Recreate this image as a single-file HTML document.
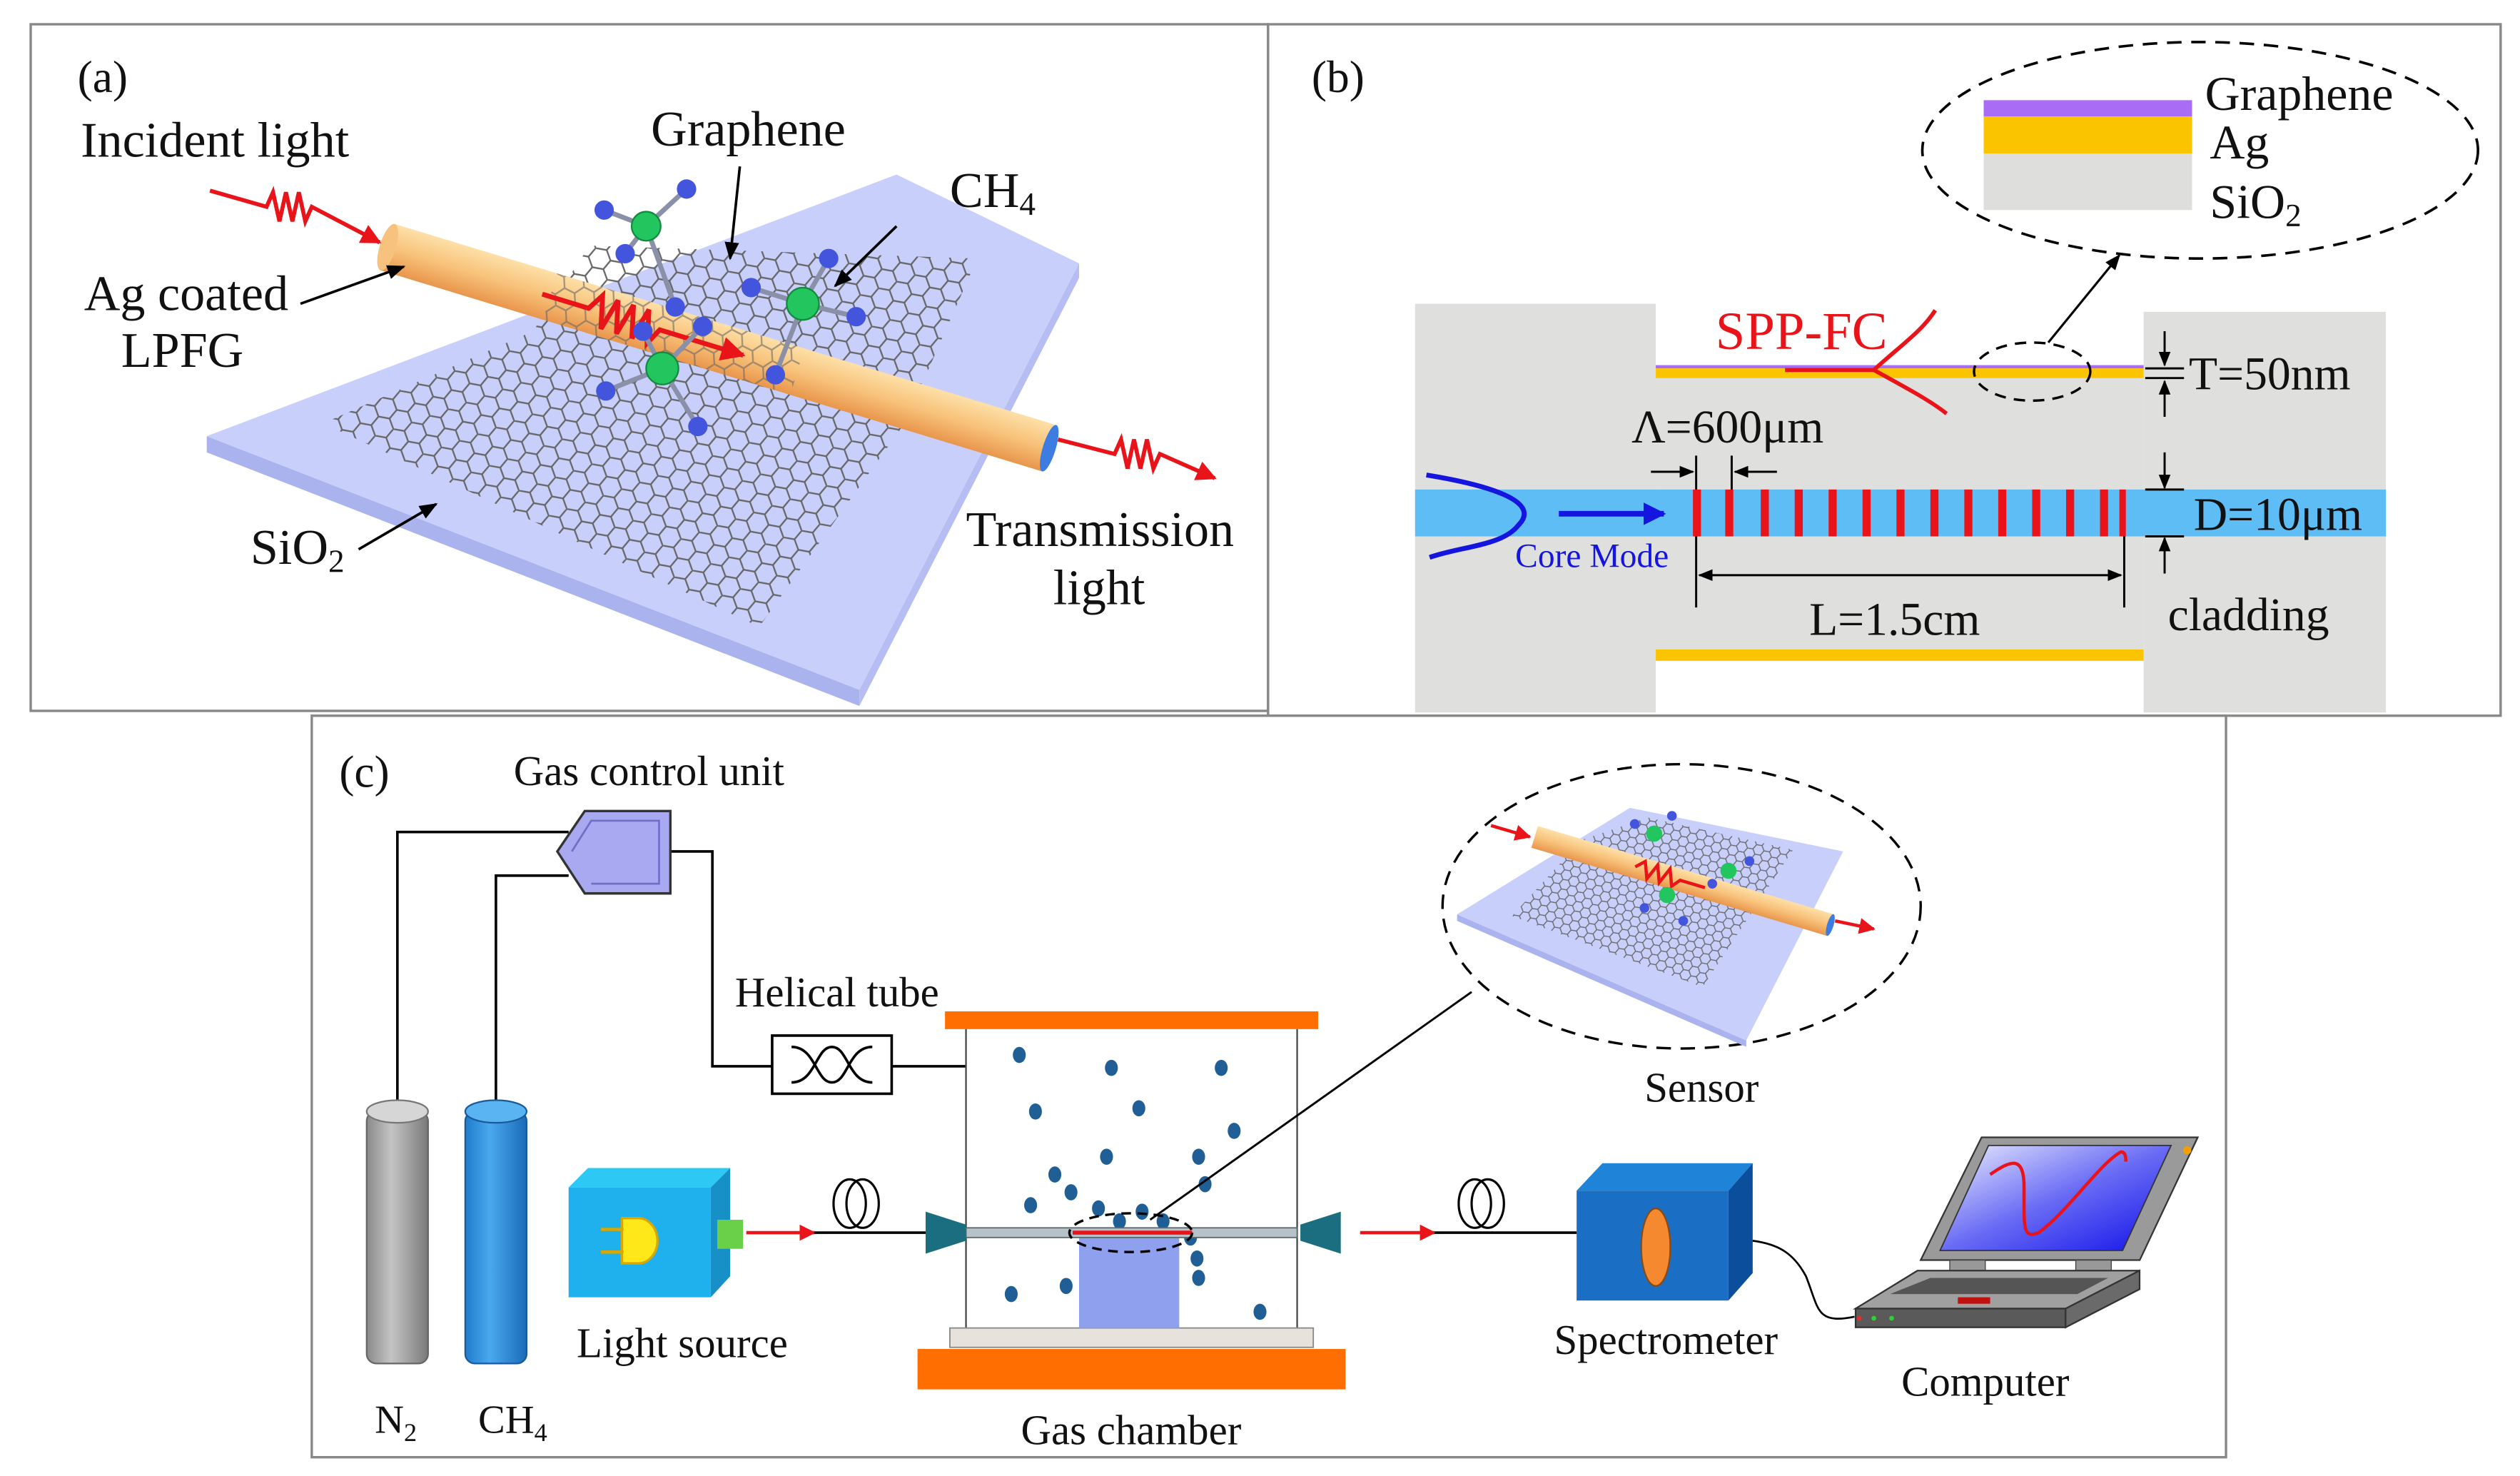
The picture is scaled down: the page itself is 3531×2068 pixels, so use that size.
<!DOCTYPE html>
<html><head><meta charset="utf-8"><style>
html,body{margin:0;padding:0;background:#fff;}
svg{display:block;}
text{font-family:"Liberation Serif",serif;fill:#111;}
</style></head><body>
<svg width="3531" height="2068" viewBox="0 0 1560 913.6" xmlns="http://www.w3.org/2000/svg">
<defs>
<pattern id="hex" width="12" height="20.8" patternUnits="userSpaceOnUse" patternTransform="rotate(-20)">
<path d="M0,3.5 L6,0 L12,3.5 L12,10.4 L6,13.9 L0,10.4 Z M6,13.9 L6,20.8" fill="none" stroke="#666" stroke-width="1"/>
</pattern>
<pattern id="hexs" width="6" height="10.4" patternUnits="userSpaceOnUse" patternTransform="rotate(-20)">
<path d="M0,1.7 L3,0 L6,1.7 L6,5.2 L3,6.9 L0,5.2 Z M3,6.9 L3,10.4" fill="none" stroke="#666" stroke-width="0.6"/>
</pattern>
<linearGradient id="fib" x1="0" y1="0" x2="0" y2="1"><stop offset="0" stop-color="#fde0a8"/><stop offset="0.5" stop-color="#f8c27a"/><stop offset="1" stop-color="#e9964c"/></linearGradient>
<linearGradient id="scr" x1="0" y1="0" x2="1" y2="1"><stop offset="0" stop-color="#eef0ff"/><stop offset="0.5" stop-color="#6a6cf5"/><stop offset="1" stop-color="#1010e8"/></linearGradient>
<linearGradient id="cylg" x1="0" y1="0" x2="1" y2="0"><stop offset="0" stop-color="#8a8a8a"/><stop offset="0.4" stop-color="#c4c4c4"/><stop offset="1" stop-color="#7a7a7a"/></linearGradient>
<linearGradient id="cylb" x1="0" y1="0" x2="1" y2="0"><stop offset="0" stop-color="#1e7ccc"/><stop offset="0.4" stop-color="#4aa8ee"/><stop offset="1" stop-color="#1a6bb8"/></linearGradient>
<marker id="ah" viewBox="0 0 10 10" refX="9" refY="5" markerWidth="7" markerHeight="7" orient="auto-start-reverse"><path d="M0,1 L10,5 L0,9 Z" fill="#000"/></marker>
<marker id="ahr" viewBox="0 0 10 10" refX="9" refY="5" markerWidth="5" markerHeight="5" orient="auto"><path d="M0,0 L10,5 L0,10 Z" fill="#e8141a"/></marker>
<marker id="ahb" viewBox="0 0 10 10" refX="9" refY="5" markerWidth="4" markerHeight="4" orient="auto"><path d="M0,0 L10,5 L0,10 Z" fill="#1515e0"/></marker>
</defs>

<rect x="19" y="15" width="766" height="425" fill="none" stroke="#888" stroke-width="1.5"/>
<rect x="785" y="15" width="763" height="428" fill="none" stroke="#888" stroke-width="1.5"/>
<rect x="193" y="443" width="1185" height="459" fill="#fff" stroke="#888" stroke-width="1.5"/>

<!-- ===== Panel (a) ===== -->
<text x="48" y="57" font-size="28">(a)</text>
<text x="50" y="97" font-size="31">Incident light</text>
<text x="403" y="90" font-size="31">Graphene</text>
<text x="588" y="128" font-size="31">CH<tspan font-size="20" dy="5">4</tspan></text>
<text x="52" y="192" font-size="31">Ag coated</text>
<text x="75" y="227" font-size="31">LPFG</text>
<text x="155" y="349" font-size="31">SiO<tspan font-size="20" dy="5">2</tspan></text>
<text x="598" y="338" font-size="31">Transmission</text>
<text x="652" y="374" font-size="31">light</text>
<polygon points="128,270 532,427 532,437 128,280" fill="#aab3ee"/>
<polygon points="532,427 668,163 668,172 532,437" fill="#b5bdf2"/>
<polygon points="128,270 555,108 668,163 532,427" fill="#c9cffb"/>
<polygon points="200,262 330,205 365,152 605,160 560,262 470,388" fill="url(#hex)"/>
<g transform="translate(240,153) rotate(16.9)">
<rect x="0" y="-15" width="428" height="30" fill="url(#fib)"/>
<ellipse cx="0" cy="0" rx="5" ry="15" fill="#f6c27e"/>
<ellipse cx="428" cy="0" rx="4" ry="15" fill="#3d7ce0"/>
<rect x="105" y="-15" width="160" height="30" fill="url(#hex)" opacity="0.6"/>
<path d="M100,0 L130,0 l6,-10 l5,20 l5,-20 l5,20 l5,-20 l5,20 l5,-20 l5,20 l5,-10 L230,0" fill="none" stroke="#e8141a" stroke-width="3" marker-end="url(#ahr)"/>
</g>
<path d="M130,118 L165,128 l4,-9 l4,18 l4,-18 l4,18 l4,-18 l4,18 l4,-9 L235,150" fill="none" stroke="#e8141a" stroke-width="2.5" marker-end="url(#ahr)"/>
<path d="M655,272 L690,281 l4,-9 l4,18 l4,-18 l4,18 l4,-18 l4,18 l4,-9 L752,296" fill="none" stroke="#e8141a" stroke-width="2.5" marker-end="url(#ahr)"/>
<g stroke="#8a90a8" stroke-width="3">
<line x1="400" y1="140" x2="374" y2="130"/><line x1="400" y1="140" x2="425" y2="117"/><line x1="400" y1="140" x2="387" y2="157"/><line x1="400" y1="140" x2="418" y2="190"/>
<line x1="497" y1="188" x2="465" y2="178"/><line x1="497" y1="188" x2="513" y2="160"/><line x1="497" y1="188" x2="530" y2="196"/><line x1="497" y1="188" x2="480" y2="232"/>
<line x1="410" y1="228" x2="375" y2="242"/><line x1="410" y1="228" x2="432" y2="264"/><line x1="410" y1="228" x2="398" y2="205"/><line x1="410" y1="228" x2="435" y2="202"/>
</g>
<g fill="#4455dd">
<circle cx="374" cy="130" r="6"/><circle cx="425" cy="117" r="6"/><circle cx="387" cy="157" r="6"/><circle cx="418" cy="190" r="6"/>
<circle cx="465" cy="178" r="6"/><circle cx="513" cy="160" r="6"/><circle cx="530" cy="196" r="6"/><circle cx="480" cy="232" r="6"/>
<circle cx="375" cy="242" r="6"/><circle cx="432" cy="264" r="6"/><circle cx="398" cy="205" r="6"/><circle cx="435" cy="202" r="6"/>
</g>
<g fill="#22c55e" stroke="#138a3e" stroke-width="1"><circle cx="400" cy="140" r="9"/><circle cx="497" cy="188" r="10"/><circle cx="410" cy="228" r="10"/></g>
<g stroke="#000" stroke-width="1.6" fill="none">
<line x1="186" y1="188" x2="250" y2="165" marker-end="url(#ah)"/>
<line x1="222" y1="340" x2="270" y2="312" marker-end="url(#ah)"/>
<line x1="458" y1="103" x2="452" y2="160" marker-end="url(#ah)"/>
<line x1="555" y1="140" x2="517" y2="177" marker-end="url(#ah)"/>
</g>

<!-- ===== Panel (b) ===== -->
<text x="812" y="57" font-size="28">(b)</text>
<ellipse cx="1362" cy="93" rx="172" ry="67" fill="none" stroke="#000" stroke-width="1.6" stroke-dasharray="9,6"/>
<rect x="1228" y="62" width="129" height="10" fill="#a86cf5"/>
<rect x="1228" y="72" width="129" height="23" fill="#fbc400"/>
<rect x="1228" y="95" width="129" height="35" fill="#dededc"/>
<text x="1365" y="68" font-size="30">Graphene</text>
<text x="1368" y="98" font-size="30">Ag</text>
<text x="1368" y="135" font-size="30">SiO<tspan font-size="20" dy="5">2</tspan></text>
<rect x="876" y="188" width="149" height="253" fill="#dfdfdd"/>
<rect x="1327" y="193" width="150" height="248" fill="#dfdfdd"/>
<rect x="1025" y="233" width="302" height="169" fill="#dfdfdd"/>
<rect x="1025" y="226" width="302" height="2" fill="#a86cf5"/>
<rect x="1025" y="228" width="302" height="6" fill="#fbc400"/>
<rect x="1025" y="402" width="302" height="7" fill="#fbc400"/>
<rect x="876" y="303" width="601" height="29" fill="#5fbdf6"/>
<g fill="#e8141a">
<rect x="1048" y="303" width="5" height="29"/><rect x="1068" y="303" width="5" height="29"/><rect x="1090" y="303" width="5" height="29"/><rect x="1111" y="303" width="5" height="29"/><rect x="1132" y="303" width="5" height="29"/><rect x="1153" y="303" width="5" height="29"/><rect x="1174" y="303" width="5" height="29"/><rect x="1195" y="303" width="5" height="29"/><rect x="1216" y="303" width="5" height="29"/><rect x="1237" y="303" width="5" height="29"/><rect x="1258" y="303" width="5" height="29"/><rect x="1279" y="303" width="5" height="29"/><rect x="1300" y="303" width="5" height="29"/><rect x="1312" y="303" width="4" height="29"/>
</g>
<path d="M883,294 C920,300 955,310 940,325 C930,338 905,338 885,345" fill="none" stroke="#1515e0" stroke-width="3"/>
<line x1="965" y1="318" x2="1030" y2="318" stroke="#1515e0" stroke-width="3.5" marker-end="url(#ahb)"/>
<text x="938" y="351" font-size="21" style="fill:#1515e0">Core Mode</text>
<text x="1062" y="216" font-size="33" style="fill:#e8141a">SPP-FC</text>
<path d="M1105,229 L1160,229 M1160,229 C1175,215 1190,205 1198,192 M1160,229 C1180,240 1195,248 1205,256" fill="none" stroke="#e8141a" stroke-width="2.5"/>
<ellipse cx="1258" cy="230" rx="36" ry="18" fill="none" stroke="#000" stroke-width="1.5" stroke-dasharray="7,5"/>
<line x1="1268" y1="212" x2="1312" y2="158" stroke="#000" stroke-width="1.4" marker-end="url(#ah)"/>
<g stroke="#000" stroke-width="1.3" fill="none">
<line x1="1340" y1="205" x2="1340" y2="226" marker-end="url(#ah)"/>
<line x1="1340" y1="258" x2="1340" y2="236" marker-end="url(#ah)"/>
<line x1="1328" y1="228" x2="1352" y2="228"/><line x1="1328" y1="234" x2="1352" y2="234"/>
<line x1="1340" y1="280" x2="1340" y2="302" marker-end="url(#ah)"/>
<line x1="1340" y1="355" x2="1340" y2="333" marker-end="url(#ah)"/>
<line x1="1328" y1="303" x2="1352" y2="303"/><line x1="1328" y1="332" x2="1352" y2="332"/>
<line x1="1022" y1="292" x2="1048" y2="292" marker-end="url(#ah)"/>
<line x1="1100" y1="292" x2="1074" y2="292" marker-end="url(#ah)"/>
<line x1="1050" y1="282" x2="1050" y2="303"/><line x1="1072" y1="282" x2="1072" y2="303"/>
<line x1="1050" y1="332" x2="1050" y2="376"/><line x1="1315" y1="332" x2="1315" y2="376"/>
<line x1="1052" y1="356" x2="1313" y2="356" marker-end="url(#ah)" marker-start="url(#ah)"/>
</g>
<text x="1355" y="241" font-size="29">T=50nm</text>
<text x="1010" y="274" font-size="29">Λ=600μm</text>
<text x="1358" y="328" font-size="29">D=10μm</text>
<text x="1120" y="393" font-size="29">L=1.5cm</text>
<text x="1342" y="390" font-size="29">cladding</text>

<!-- ===== Panel (c) ===== -->
<text x="210" y="487" font-size="28">(c)</text>
<text x="318" y="486" font-size="26">Gas control unit</text>
<g stroke="#000" stroke-width="1.6" fill="none">
<polyline points="246,685 246,515 352,515"/>
<polyline points="307,685 307,542 352,542"/>
<polyline points="413,527 441,527 441,660 478,660"/>
<line x1="552" y1="660" x2="598" y2="660"/>
</g>
<polygon points="345,527 362,502 415,502 415,553 362,553" fill="#a9a9f2" stroke="#333" stroke-width="1.5"/>
<polyline points="354,527 366,508 408,508 408,547 366,547" fill="none" stroke="#6f6fc8" stroke-width="1.2"/>
<rect x="478" y="641" width="74" height="36" fill="#fff" stroke="#000" stroke-width="1.6"/>
<path d="M490,648 C505,648 505,670 515,670 M540,648 C525,648 525,670 515,670 M490,670 C505,670 505,648 515,648 M540,670 C525,670 525,648 515,648" fill="none" stroke="#000" stroke-width="1.6"/>
<text x="455" y="623" font-size="26">Helical tube</text>
<rect x="227" y="688" width="38" height="156" rx="6" fill="url(#cylg)" stroke="#666" stroke-width="1"/>
<ellipse cx="246" cy="688" rx="19" ry="7" fill="#d6d6d6" stroke="#777"/>
<rect x="288" y="688" width="38" height="156" rx="6" fill="url(#cylb)" stroke="#1a5a9a" stroke-width="1"/>
<ellipse cx="307" cy="688" rx="19" ry="7" fill="#5ab4f2" stroke="#1a5a9a"/>
<text x="232" y="887" font-size="25">N<tspan font-size="16" dy="5">2</tspan></text>
<text x="296" y="887" font-size="25">CH<tspan font-size="16" dy="5">4</tspan></text>
<rect x="585" y="626" width="231" height="11" fill="#ff6e00"/>
<line x1="598" y1="637" x2="598" y2="822" stroke="#444" stroke-width="1"/>
<line x1="803" y1="637" x2="803" y2="822" stroke="#444" stroke-width="1"/>
<rect x="588" y="822" width="225" height="12" fill="#e7e2dc" stroke="#888" stroke-width="0.8"/>
<rect x="568" y="835" width="265" height="25" fill="#ff6e00"/>
<rect x="668" y="765" width="62" height="57" fill="#8ea0ee"/>
<g fill="#1f5f95">
<ellipse cx="631" cy="653" rx="4" ry="5"/><ellipse cx="688" cy="661" rx="4" ry="5"/><ellipse cx="756" cy="661" rx="4" ry="5"/><ellipse cx="641" cy="688" rx="4" ry="5"/><ellipse cx="705" cy="686" rx="4" ry="5"/><ellipse cx="764" cy="700" rx="4" ry="5"/><ellipse cx="653" cy="727" rx="4" ry="5"/><ellipse cx="685" cy="716" rx="4" ry="5"/><ellipse cx="742" cy="716" rx="4" ry="5"/><ellipse cx="663" cy="738" rx="4" ry="5"/><ellipse cx="746" cy="733" rx="4" ry="5"/><ellipse cx="638" cy="746" rx="4" ry="5"/><ellipse cx="707" cy="750" rx="4" ry="5"/><ellipse cx="680" cy="748" rx="4" ry="5"/><ellipse cx="693" cy="756" rx="4" ry="5"/><ellipse cx="720" cy="756" rx="4" ry="5"/><ellipse cx="737" cy="766" rx="4" ry="5"/><ellipse cx="741" cy="779" rx="4" ry="5"/><ellipse cx="660" cy="796" rx="4" ry="5"/><ellipse cx="742" cy="791" rx="4" ry="5"/><ellipse cx="626" cy="801" rx="4" ry="5"/><ellipse cx="780" cy="812" rx="4" ry="5"/>
</g>
<rect x="598" y="760" width="205" height="6" fill="#b7c2c8" stroke="#5a6a70" stroke-width="0.8"/>
<line x1="664" y1="763" x2="738" y2="763" stroke="#e8141a" stroke-width="2.5"/>
<ellipse cx="700" cy="763" rx="38" ry="12" fill="none" stroke="#000" stroke-width="1.5" stroke-dasharray="6,4"/>
<polygon points="573,750 598,758 598,768 573,776" fill="#1b6d80"/>
<polygon points="830,750 805,758 805,768 830,776" fill="#1b6d80"/>
<line x1="712" y1="755" x2="911" y2="614" stroke="#000" stroke-width="1.3"/>
<polygon points="352,735 364,723 452,723 440,735" fill="#2ec8f5"/>
<polygon points="440,735 452,723 452,790 440,803" fill="#1790c8"/>
<rect x="352" y="735" width="88" height="68" fill="#1fb0ee"/>
<rect x="444" y="755" width="16" height="18" fill="#6ad04a"/>
<path d="M385,754 L395,754 A12,14 0 0 1 395,782 L385,782 Z" fill="#ffe81a" stroke="#d9a800" stroke-width="1.5"/>
<path d="M372,761 L386,761 M372,775 L386,775" stroke="#d9a800" stroke-width="2"/>
<line x1="462" y1="763" x2="504" y2="763" stroke="#e8141a" stroke-width="2" marker-end="url(#ahr)"/>
<line x1="504" y1="763" x2="573" y2="763" stroke="#000" stroke-width="1.6"/>
<ellipse cx="526" cy="745" rx="10" ry="15" fill="none" stroke="#000" stroke-width="1.4"/>
<ellipse cx="534" cy="745" rx="10" ry="15" fill="none" stroke="#000" stroke-width="1.4"/>
<text x="357" y="840" font-size="26">Light source</text>
<line x1="842" y1="763" x2="888" y2="763" stroke="#e8141a" stroke-width="2" marker-end="url(#ahr)"/>
<line x1="888" y1="763" x2="976" y2="763" stroke="#000" stroke-width="1.6"/>
<ellipse cx="913" cy="745" rx="10" ry="15" fill="none" stroke="#000" stroke-width="1.4"/>
<ellipse cx="921" cy="745" rx="10" ry="15" fill="none" stroke="#000" stroke-width="1.4"/>
<polygon points="976,737 992,720 1085,720 1070,737" fill="#1f83d8"/>
<polygon points="1070,737 1085,720 1085,788 1070,805" fill="#0b4f9c"/>
<rect x="976" y="737" width="94" height="68" fill="#1a6fc4"/>
<ellipse cx="1025" cy="772" rx="9" ry="24" fill="#f5892f" stroke="#8a4a10" stroke-width="1"/>
<path d="M1085,768 C1100,770 1110,775 1118,790 C1126,810 1124,820 1148,815" fill="none" stroke="#000" stroke-width="1.2"/>
<text x="962" y="838" font-size="26">Spectrometer</text>
<polygon points="1226.7,704 1360.5,704 1324.6,780 1189,780" fill="#9a9a9a" stroke="#333" stroke-width="1"/>
<polygon points="1231,709 1344,709 1314,774 1201,774" fill="url(#scr)" stroke="#333" stroke-width="0.8"/>
<circle cx="1354" cy="712" r="2.5" fill="#f5a000"/>
<path d="M1232,727 C1245,718 1253,715 1253,735 C1253,760 1252,767 1262,763 C1280,750 1300,720 1313,713 C1316,713 1316,717 1316,719" fill="none" stroke="#e8141a" stroke-width="2"/>
<rect x="1207" y="780" width="22" height="7" fill="#999" stroke="#444" stroke-width="0.6"/>
<rect x="1285" y="780" width="22" height="7" fill="#999" stroke="#444" stroke-width="0.6"/>
<polygon points="1187,786.5 1324.5,786.5 1278.7,810 1148.7,810" fill="#a0a0a0" stroke="#333" stroke-width="1"/>
<polygon points="1195,791 1305,791 1286,801 1170,801" fill="#555"/>
<rect x="1212" y="803" width="20" height="4" fill="#c01010"/>
<rect x="1148.7" y="810" width="130" height="11.6" fill="#5a5a5a" stroke="#333" stroke-width="1"/>
<polygon points="1278.7,810 1324.5,786.5 1324.5,798 1278.7,821.6" fill="#6a6a6a" stroke="#333" stroke-width="1"/>
<circle cx="1160" cy="816" r="1.5" fill="#2fd02f"/><circle cx="1171" cy="816" r="1.5" fill="#2fd02f"/><circle cx="1151" cy="816" r="1.5" fill="#e03030"/>
<text x="1177" y="864" font-size="26">Computer</text>
<!-- sensor -->
<ellipse cx="1041" cy="561" rx="148" ry="88" fill="none" stroke="#000" stroke-width="1.5" stroke-dasharray="9,6"/>
<polygon points="902,566 1081,644 1081,648 902,570" fill="#aab3ee"/>
<polygon points="902,566 1009,500 1141,527 1081,644" fill="#c9cffb"/>
<polygon points="936,567 979,520 1020,506 1110,526 1054,611" fill="url(#hexs)"/>
<g transform="translate(950,518) rotate(16.6)">
<rect x="0" y="-7" width="191" height="14" fill="url(#fib)"/>
<ellipse cx="191" cy="0" rx="2" ry="7" fill="#3d7ce0"/>
<path d="M65,0 l5,-5 l4,10 l4,-10 l4,10 l4,-10 l4,10 l4,-5 L110,0" fill="none" stroke="#e8141a" stroke-width="2"/>
</g>
<g fill="#22c55e"><circle cx="1024" cy="516" r="5"/><circle cx="1070" cy="539" r="5"/><circle cx="1032" cy="554" r="5"/></g>
<g fill="#4455dd"><circle cx="1012" cy="510" r="3"/><circle cx="1035" cy="505" r="3"/><circle cx="1083" cy="533" r="3"/><circle cx="1060" cy="547" r="3"/><circle cx="1018" cy="562" r="3"/><circle cx="1042" cy="570" r="3"/></g>
<line x1="923" y1="511" x2="947" y2="518" stroke="#e8141a" stroke-width="2" marker-end="url(#ahr)"/>
<line x1="1136" y1="570" x2="1160" y2="575" stroke="#e8141a" stroke-width="2" marker-end="url(#ahr)"/>
<text x="1018" y="682" font-size="26">Sensor</text>
<text x="632" y="894" font-size="26">Gas chamber</text>
</svg>
</body></html>
